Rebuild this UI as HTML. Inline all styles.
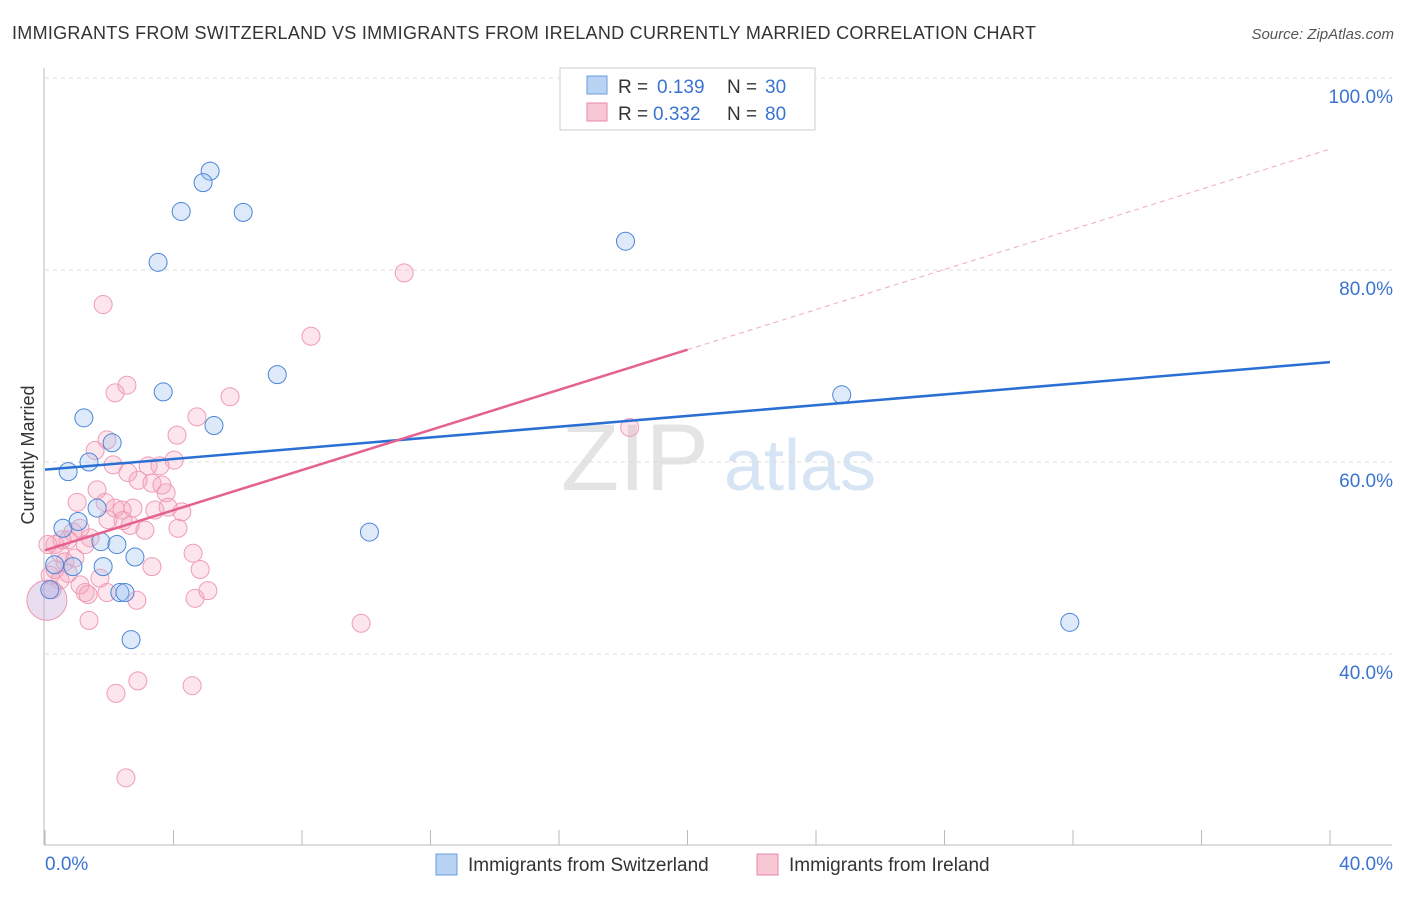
<!DOCTYPE html>
<html><head><meta charset="utf-8"><style>
body{margin:0;background:#fff;font-family:"Liberation Sans",sans-serif;}
svg text{font-family:"Liberation Sans",sans-serif;}
</style></head><body>
<svg width="1406" height="892" viewBox="0 0 1406 892" id="chart">
<text x="12" y="39" font-size="18" fill="#333" textLength="1024">IMMIGRANTS FROM SWITZERLAND VS IMMIGRANTS FROM IRELAND CURRENTLY MARRIED CORRELATION CHART</text>
<text x="1394" y="39" font-size="15" fill="#555" font-style="italic" text-anchor="end">Source: ZipAtlas.com</text>
<text x="34" y="455" font-size="18" fill="#333" transform="rotate(-90 34 455)" text-anchor="middle">Currently Married</text>
<text x="635" y="490" font-size="95" fill="#e4e4e4" font-family="Liberation Serif" text-anchor="middle">ZIP</text>
<text x="800" y="490" font-size="72" fill="#d7e4f4" text-anchor="middle">atlas</text>
<g id="grid"></g><g id="axes"></g><g id="pts"></g><g id="lines"></g>
<g>
<rect x="560" y="68" width="255" height="62" fill="#fff" stroke="#ccc"/>
<rect x="587" y="76" width="20" height="18" fill="#b8d3f3" stroke="#6a9be0"/>
<rect x="587" y="103" width="20" height="18" fill="#f9c6d4" stroke="#e88aa7"/>
<text x="618" y="93" font-size="19" fill="#333">R =</text><text x="657" y="93" font-size="19" fill="#3b73d1">0.139</text>
<text x="727" y="93" font-size="19" fill="#333">N =</text><text x="765" y="93" font-size="19" fill="#3b73d1">30</text>
<text x="618" y="120" font-size="19" fill="#333">R =</text><text x="653" y="120" font-size="19" fill="#3b73d1">0.332</text>
<text x="727" y="120" font-size="19" fill="#333">N =</text><text x="765" y="120" font-size="19" fill="#3b73d1">80</text>
</g>
<g>
<rect x="436" y="854" width="21" height="21" fill="#b8d3f3" stroke="#6a9be0"/>
<text x="468" y="871" font-size="19" fill="#333">Immigrants from Switzerland</text>
<rect x="757" y="854" width="21" height="21" fill="#f9c6d4" stroke="#e88aa7"/>
<text x="789" y="871" font-size="19" fill="#333">Immigrants from Ireland</text>
</g>
</svg>
<script>
const blueX=[5.14,4.92,4.24,6.17,3.52,18.07,7.23,3.68,1.21,5.26,2.09,1.37,0.72,24.8,1.62,0.56,1.03,1.74,2.24,2.80,1.81,0.87,2.33,2.49,2.68,10.1,31.9,0.3,0.15];
const blueY=[90.3,89.1,86.1,86.0,80.8,83.0,69.1,67.3,64.6,63.8,62.0,60.0,59.0,67.0,55.2,53.1,53.8,51.7,51.4,50.1,49.1,49.1,46.4,46.4,41.5,52.7,43.3,49.3,46.7];
const pinkX=[11.18,1.81,8.28,2.18,2.55,5.76,4.73,18.2,4.11,1.93,1.56,4.02,2.12,3.21,3.58,2.58,2.9,3.33,3.64,1.62,3.77,1.0,1.87,2.4,2.18,3.42,3.83,4.26,2.74,1.96,2.43,2.65,3.11,1.09,0.87,1.40,0.72,0.31,0.09,0.47,1.25,4.14,4.61,3.33,4.83,0.62,0.31,0.72,0.16,1.71,1.09,0.47,1.25,1.34,1.93,2.86,4.67,5.07,0.22,1.37,9.84,2.89,2.21,4.58,2.52,0.53,0.93];
const pinkY=[79.7,76.4,73.1,67.2,68.0,66.8,64.7,63.6,62.8,62.3,61.2,60.2,59.7,59.6,59.6,58.9,58.1,57.8,57.6,57.1,56.8,55.8,55.8,55.0,55.2,55.0,55.3,54.8,55.2,54.0,53.9,53.4,52.9,53.1,52.7,52.1,51.9,51.4,51.4,50.5,51.4,53.1,50.5,49.1,48.8,49.6,48.8,48.4,48.2,47.9,47.2,47.7,46.4,46.2,46.4,45.6,45.8,46.6,46.7,43.5,43.2,37.2,35.9,36.7,27.1,51.9,50.0];
const bigX=[0.06];const bigY=[45.6];
const yTicks=[40,60,80,100];
const blueFit=[59.2,70.4];const pinkFit=[50.8,1.045];
const NS='http://www.w3.org/2000/svg';
const sx=v=>45+v*1285/40, sy=v=>462-(v-60)*9.6;
function mk(p,t,a){const e=document.createElementNS(NS,t);for(const k in a)e.setAttribute(k,a[k]);document.getElementById(p).appendChild(e);return e;}
yTicks.forEach(t=>{
 const l=mk('grid','line',{x1:45,x2:1392,y1:sy(t),y2:sy(t),stroke:'#ddd','stroke-dasharray':'4,4'});
 
 
 const tx=mk('grid','text',{x:1393,y:sy(t)+25,'font-size':19,fill:'#3b73d1','text-anchor':'end'});
 tx.textContent=t.toFixed(1)+'%';
 
 
});
mk('axes','line',{x1:44,x2:44,y1:68,y2:845,stroke:'#bbb'});
mk('axes','line',{x1:44,x2:1392,y1:845,y2:845,stroke:'#bbb'});
for(let i=0;i<=10;i++){mk('axes','line',{x1:sx(i*4),x2:sx(i*4),y1:830,y2:845,stroke:'#bbb'});}
let a=mk('axes','text',{x:45,y:870,'font-size':19,fill:'#3b73d1'});a.textContent='0.0%';


a=mk('axes','text',{x:1393,y:870,'font-size':19,fill:'#3b73d1','text-anchor':'end'});a.textContent='40.0%';


pinkX.forEach((x,i)=>{const c=mk('pts','circle',{cx:sx(x),cy:sy(pinkY[i]),r:9,fill:'rgba(244,160,185,0.28)',stroke:'#ef9cb6','stroke-width':1});
 
 });
bigX.forEach((x,i)=>{const c=mk('pts','circle',{cx:sx(x),cy:sy(bigY[i]),r:20,fill:'rgba(200,170,215,0.4)',stroke:'#ec9ab4','stroke-width':1});
 
 });
blueX.forEach((x,i)=>{const c=mk('pts','circle',{cx:sx(x),cy:sy(blueY[i]),r:9,fill:'rgba(160,195,240,0.35)',stroke:'#4a86d8','stroke-width':1});
 
 });
let l=mk('lines','line',{x1:sx(0),y1:sy(blueFit[0]),x2:sx(40),y2:sy(blueFit[1]),stroke:'#2a6fd4','stroke-width':2.5});


l=mk('lines','line',{x1:sx(0),y1:sy(pinkFit[0]),x2:sx(20),y2:sy(pinkFit[0]+pinkFit[1]*20),stroke:'#e5618f','stroke-width':2.5});


l=mk('lines','line',{x1:sx(20),y1:sy(pinkFit[0]+pinkFit[1]*20),x2:sx(40),y2:sy(pinkFit[0]+pinkFit[1]*40),stroke:'#eeaac0','stroke-width':1,'stroke-dasharray':'5,4'});


</script>
</body></html>
